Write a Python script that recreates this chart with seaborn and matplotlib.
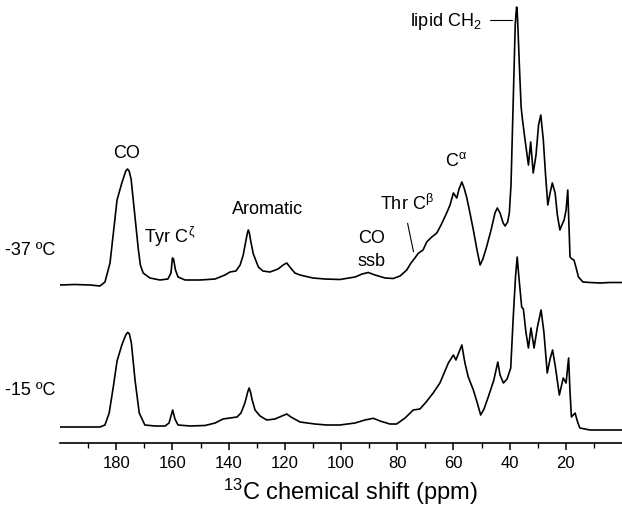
import numpy as np
import pandas as pd
import matplotlib
matplotlib.use("Agg")
import matplotlib.pyplot as plt
from matplotlib.ticker import FixedLocator
import seaborn as sns

# ------------------------------------------------------------
# data (ppm, intensity above baseline)
# ------------------------------------------------------------
ppm_37 = [200.0, 194.7, 189.3, 185.8, 184.0, 182.2, 181.0, 179.7, 178.0, 177.3,
          176.6, 176.0, 175.4, 174.7, 174.0, 173.3, 172.1, 171.4, 170.4, 168.0,
          164.4, 161.6, 160.5, 160.0, 159.6, 158.9, 158.0, 155.5, 150.2, 144.8,
          141.3, 139.5, 137.4, 135.9, 134.8, 133.8, 133.3, 133.0, 132.6, 132.2,
          131.2, 129.4, 127.8, 125.3, 122.4, 120.6, 119.3, 118.2, 116.4, 114.6,
          110.0, 105.7, 100.4, 95.0, 92.5, 90.3, 87.9, 84.3, 81.4, 79.0,
          76.6, 75.1, 73.7, 72.5, 70.8, 69.5, 67.7, 65.9, 64.4, 62.4,
          61.2, 60.0, 58.8, 58.0, 57.0, 56.2, 55.3, 54.1, 52.9, 51.6,
          50.5, 49.5, 48.2, 46.6, 45.2, 44.4, 43.4, 42.3, 41.6, 40.7,
          40.1, 39.5, 38.7, 38.0, 37.7, 37.5, 37.3, 37.0, 36.5, 35.9,
          35.4, 34.5, 33.3, 32.5, 31.6, 30.6, 29.7, 28.9, 28.0, 27.2,
          26.4, 25.6, 24.8, 23.8, 23.0, 22.1, 21.4, 20.6, 19.9, 19.3,
          18.9, 18.5, 17.8, 17.1, 16.4, 15.5, 13.9, 11.4, 7.8, 4.3,
          0.0]
int_37 = [0, 0.5, 0, -1, 3, 22, 52, 85, 102, 108,
          114, 116, 114, 106, 88, 68, 35, 20, 12, 7,
          5, 6, 12, 27, 26, 15, 8, 5, 5, 6,
          10, 13, 14, 20, 30, 45, 52, 55, 52, 45,
          31, 18, 14, 13, 16, 20, 22, 18, 12, 10,
          7, 6, 5.5, 8, 11, 12.5, 10, 7, 6.5, 9,
          15, 22, 27, 31.7, 35, 43, 48, 52, 60, 72,
          80, 92, 87, 96, 103, 97, 88, 72, 55, 35,
          20, 26, 38, 55, 72, 77, 72, 62, 59, 63,
          72, 100, 185, 260, 272, 278, 274, 255, 218, 178,
          165, 145, 120, 143, 112, 130, 160, 170, 145, 110,
          80, 92, 102, 92, 70, 55, 60, 65, 75, 95,
          60, 28, 26, 25, 18, 8, 3, 2.5, 2, 2.5,
          2.5]

ppm_15 = [200.0, 192.9, 185.8, 184.0, 182.5, 181.0, 179.7, 178.0, 177.3, 176.6,
          175.9, 175.3, 174.6, 173.3, 171.8, 169.8, 166.2, 162.6, 161.2, 159.9,
          159.1, 158.0, 153.7, 148.4, 144.8, 142.0, 139.5, 137.0, 135.6, 134.2,
          133.2, 132.7, 132.2, 131.7, 130.6, 128.8, 126.4, 123.5, 121.0, 119.3,
          117.8, 114.6, 109.3, 105.1, 100.4, 95.0, 91.5, 88.5, 86.1, 82.6,
          80.2, 77.2, 74.3, 71.9, 69.7, 67.2, 64.8, 61.8, 60.0, 59.1,
          57.0, 55.9, 54.7, 52.9, 51.6, 50.3, 49.1, 47.6, 45.6, 44.2,
          43.4, 42.2, 40.9, 39.6, 38.7, 37.9, 37.3, 36.7, 35.7, 35.1,
          34.2, 33.3, 32.4, 31.3, 30.1, 28.8, 27.8, 26.6, 25.6, 24.7,
          23.7, 22.3, 20.9, 19.9, 19.0, 18.5, 18.0, 16.7, 15.8, 15.0,
          11.4, 7.8, 0.0]
int_15 = [0, 0, 0, 2, 14, 40.7, 66, 82, 87, 92,
          94.7, 93, 84, 47, 14, 2, 1, 1, 4, 17,
          8, 2, 1, 1.5, 4, 8, 9, 10, 14, 24,
          35, 39, 35, 28, 17, 11, 7, 8, 11, 13,
          10, 5, 3, 2, 2, 4, 7, 8.7, 6, 3,
          3, 9, 17, 18, 25, 34, 44, 64, 72, 67,
          82, 64, 50, 37, 25, 12, 18, 30, 47, 65,
          52, 44, 48, 59, 110, 150, 170, 150, 120, 118,
          95, 79, 99, 79, 100, 117, 95, 54, 68, 77,
          60, 32, 49, 44, 69, 35, 10, 14, 5, -1,
          -3, -3, -3]

temps = ["-37 ºC", "-15 ºC"]
major_ticks = [180, 160, 140, 120, 100, 80, 60, 40, 20]
minor_ticks = [190, 170, 150, 130, 110, 90, 70, 50, 30, 10]

# ------------------------------------------------------------
# long table, spectra stacked with a vertical offset
# ------------------------------------------------------------
offsets = {"-37 ºC": 158, "-15 ºC": 16}
df = pd.concat([
    pd.DataFrame({"ppm": ppm_37, "intensity": int_37, "temp": temps[0]}),
    pd.DataFrame({"ppm": ppm_15, "intensity": int_15, "temp": temps[1]}),
], ignore_index=True)
df["signal"] = df["intensity"] + df["temp"].map(offsets)

sns.set_style("ticks")
plt.rcParams["font.family"] = ["Liberation Sans", "DejaVu Sans"]
plt.rcParams["mathtext.fontset"] = "custom"
plt.rcParams["mathtext.rm"] = "Liberation Sans"
plt.rcParams["mathtext.it"] = "Liberation Sans"
plt.rcParams["text.color"] = "black"
plt.rcParams["axes.labelcolor"] = "black"
plt.rcParams["xtick.color"] = "black"
plt.rcParams["axes.edgecolor"] = "black"

fig = plt.figure(figsize=(6.22, 5.11), dpi=100)
ax = fig.add_axes([60 / 622, 68 / 511, 562 / 622, 443 / 511])

sns.lineplot(data=df, x="ppm", y="signal", units="temp", estimator=None,
             color="black", lw=1.2, ax=ax)

ax.set_xlim(200, 0)
ax.set_ylim(0, 443)
sns.despine(ax=ax, left=True)
ax.spines["bottom"].set_linewidth(1.2)
ax.set_yticks([])
ax.set_ylabel("")
ax.xaxis.set_major_locator(FixedLocator(major_ticks))
ax.xaxis.set_minor_locator(FixedLocator(minor_ticks))
ax.tick_params(axis="x", which="major", direction="out", length=5, width=1.1,
               labelsize=12, pad=4)
ax.tick_params(axis="x", which="minor", direction="out", length=3.5, width=1.0)
ax.set_xlabel("$^{13}$C chemical shift (ppm)", fontsize=17, labelpad=5)
ax.xaxis.set_label_coords(0.516, -0.076)

# ------------------------------------------------------------
# annotations
# ------------------------------------------------------------
fs = 13
ax.text(219.5, 193, temps[0], fontsize=fs, ha="left", va="center")
ax.text(219.5, 53, temps[1], fontsize=fs, ha="left", va="center")
ax.text(176.2, 285, "CO", fontsize=fs, ha="center", va="baseline")
ax.text(160.9, 200, r"Tyr C$^{\zeta}$", fontsize=fs, ha="center", va="baseline")
ax.text(126.0, 229, "Aromatic", fontsize=fs, ha="center", va="baseline")
ax.text(89.3, 200, "CO", fontsize=fs, ha="center", va="baseline")
ax.text(89.3, 177, "ssb", fontsize=fs, ha="center", va="baseline")
ax.text(86.1, 233, r"Thr C$^{\beta}$", fontsize=fs, ha="left", va="baseline")
ax.plot([76.3, 74.2], [219.7, 191.3], color="black", lw=0.8)
ax.text(63.0, 277, r"C$^{\alpha}$", fontsize=fs, ha="left", va="baseline")
ax.text(75.4, 417, r"lipid CH$_2$", fontsize=fs, ha="left", va="baseline")
ax.plot([47.0, 39.3], [423, 423], color="black", lw=0.8)

fig.savefig("out.png", dpi=100)
